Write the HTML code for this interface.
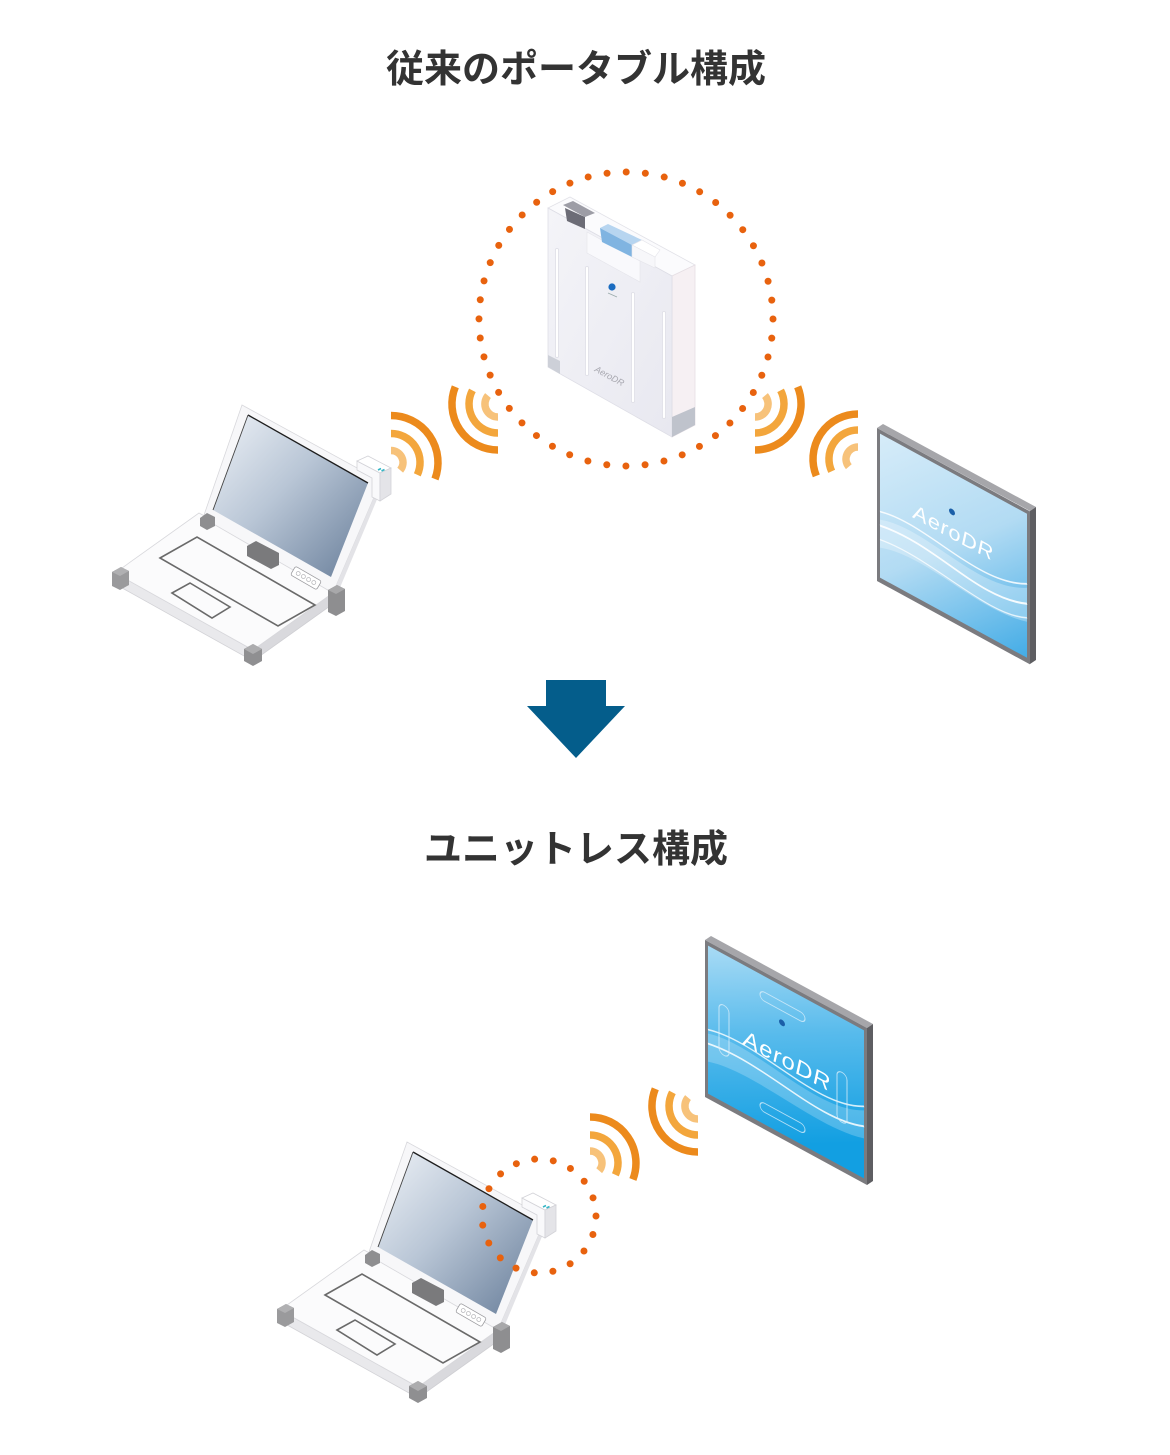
<!DOCTYPE html>
<html>
<head>
<meta charset="utf-8">
<style>
  html,body{margin:0;padding:0;background:#fff;}
  svg{display:block;}
</style>
</head>
<body>
<svg width="1170" height="1455" viewBox="0 0 1170 1455" xmlns="http://www.w3.org/2000/svg">
  <defs>
    <linearGradient id="lcd" x1="0" y1="0" x2="1" y2="1">
      <stop offset="0" stop-color="#eef2f7"/>
      <stop offset="0.45" stop-color="#b9c6d6"/>
      <stop offset="1" stop-color="#677d99"/>
    </linearGradient>
    <linearGradient id="unitFront" x1="0" y1="0" x2="1" y2="1">
      <stop offset="0" stop-color="#f4f4f8"/>
      <stop offset="1" stop-color="#e8e8f0"/>
    </linearGradient>
    <linearGradient id="scr1" x1="0" y1="0" x2="1" y2="1">
      <stop offset="0" stop-color="#d6ecf9"/>
      <stop offset="0.5" stop-color="#b2dbf3"/>
      <stop offset="1" stop-color="#43ace6"/>
    </linearGradient>
    <linearGradient id="scr2" x1="0" y1="0" x2="0.6" y2="1">
      <stop offset="0" stop-color="#a9dbf5"/>
      <stop offset="0.45" stop-color="#58bbec"/>
      <stop offset="1" stop-color="#129fe2"/>
    </linearGradient>
  </defs>

  <!-- Titles -->
  <text x="576" y="82" text-anchor="middle" font-family="'Liberation Sans','Noto Sans CJK JP',sans-serif" font-weight="bold" font-size="38" fill="#333">従来のポータブル構成</text>
  <text x="576" y="862" text-anchor="middle" font-family="'Liberation Sans','Noto Sans CJK JP',sans-serif" font-weight="bold" font-size="38" fill="#333">ユニットレス構成</text>

  <!-- Arrow -->
  <polygon points="546,680 606,680 606,706 625,706 576,758 527,706 546,706" fill="#045d8b"/>

  <!-- ===== Laptop (top) ===== -->
  <g id="lp">
    <!-- base -->
    <polygon points="115,573 253,650 253,661 115,584" fill="#e9e9ec" stroke="#d2d2d6" stroke-width="0.8"/>
    <polygon points="253,650 337,590 337,601 253,661" fill="#d9d9dd" stroke="#cfcfd3" stroke-width="0.8"/>
    <polygon points="115,573 253,650 337,590 199,513" fill="#fbfbfc" stroke="#d8d8dc" stroke-width="0.8"/>
    <polygon points="160,558 197,537 315,605 278,626" fill="none" stroke="#6a6a6a" stroke-width="1.6"/>
    <polygon points="172,593 190,583 230,607 212,618" fill="none" stroke="#6a6a6a" stroke-width="1.6"/>
    <!-- bumpers base -->
    <polygon points="112,572 121,567 129,571 129,585 120,590 112,586" fill="#9a9a9c"/>
    <polygon points="112,572 121,567 129,571 120,576" fill="#b0b0b2"/>
    <polygon points="244,649 253,644 262,649 262,661 253,666 244,661" fill="#8f8f91"/>
    <polygon points="244,649 253,644 262,649 253,654" fill="#acacae"/>
    <!-- lid -->
    <polygon points="242,405 381,481 333,593 203,518" fill="#f7f7f9" stroke="#d8d8dc" stroke-width="0.8"/>
    <polygon points="381,481 386,478 339,590 333,593" fill="#e3e3e7"/>
    <polygon points="248,415 368,483 331,577 213,510" fill="url(#lcd)"/>
    <line x1="248" y1="415" x2="368" y2="483" stroke="#1e1e1e" stroke-width="1.3"/>
    <line x1="248" y1="415" x2="213" y2="510" stroke="#444" stroke-width="0.9"/>
    <!-- hinge -->
    <polygon points="247,546 256,541 279,553 279,565 271,569 247,556" fill="#7a7a7c"/>
    <!-- buttons -->
    <g transform="translate(306,578) rotate(30)">
      <rect x="-15" y="-5" width="30" height="10" rx="2" fill="#fff" stroke="#9a9a9e" stroke-width="0.8"/>
      <circle cx="-9" cy="0" r="2" fill="none" stroke="#b0b0b4" stroke-width="0.7"/>
      <circle cx="-3" cy="0" r="2" fill="none" stroke="#b0b0b4" stroke-width="0.7"/>
      <circle cx="3" cy="0" r="2" fill="none" stroke="#b0b0b4" stroke-width="0.7"/>
      <circle cx="9" cy="0" r="2" fill="none" stroke="#b0b0b4" stroke-width="0.7"/>
    </g>
    <!-- hinge bumpers -->
    <polygon points="200,518 207,513 215,517 215,526 207,530 200,526" fill="#8e8e90"/>
    <polygon points="328,590 337,585 345,589 345,611 336,616 328,612" fill="#8e8e90"/>
    <polygon points="328,590 337,585 345,589 336,594" fill="#a8a8aa"/>
    <!-- dongle -->
    <polygon points="357,470 372,478 372,497 380,501 380,473 357,461" fill="#f9f9fb" stroke="#d3d3d8" stroke-width="0.8"/>
    <polygon points="357,461 368,456 391,468 380,473" fill="#ffffff" stroke="#d3d3d8" stroke-width="0.8"/>
    <polygon points="380,473 391,468 391,494 380,501" fill="#e4e4e8" stroke="#d3d3d8" stroke-width="0.8"/>
    <path d="M378,470 l3,-1.5 M381.5,471 l3,-1.5" stroke="#35b5c5" stroke-width="1.6"/>
  </g>

  <!-- Laptop (bottom) -->
  <use href="#lp" transform="translate(165,737)"/>

  <!-- ===== Unit (top center) ===== -->
  <g>
    <polygon points="548,208 570,197 695,265 672,276" fill="#fbfbfd" stroke="#e2e2e8" stroke-width="0.8"/>
    <polygon points="672,276 695,265 695,425 672,437" fill="#f6f0f3" stroke="#e6dfe4" stroke-width="0.8"/>
    <polygon points="548,208 672,276 672,437 548,367" fill="url(#unitFront)" stroke="#dedee6" stroke-width="0.8"/>
    <!-- recess under handles -->
    <polygon points="587,232 640,261 640,282 587,253" fill="#f9f9fc" stroke="#e4e4ea" stroke-width="0.6"/>
    <!-- bars -->
    <g stroke-linecap="round">
      <line x1="557" y1="250" x2="557" y2="356" stroke="#e0e0e8" stroke-width="4"/>
      <line x1="587" y1="268" x2="587" y2="374" stroke="#e0e0e8" stroke-width="4"/>
      <line x1="633" y1="294" x2="633" y2="401" stroke="#e0e0e8" stroke-width="4"/>
      <line x1="664" y1="313" x2="664" y2="417" stroke="#e0e0e8" stroke-width="4"/>
      <line x1="557" y1="250" x2="557" y2="356" stroke="#fff" stroke-width="2.2"/>
      <line x1="587" y1="268" x2="587" y2="374" stroke="#fff" stroke-width="2.2"/>
      <line x1="633" y1="294" x2="633" y2="401" stroke="#fff" stroke-width="2.2"/>
      <line x1="664" y1="313" x2="664" y2="417" stroke="#fff" stroke-width="2.2"/>
    </g>
    <!-- gray handle block -->
    <polygon points="563,205 573,201 595,213 585,217" fill="#9d9da6"/>
    <polygon points="565,208 585,217 585,229 567,221" fill="#6c6c76"/>
    <!-- blue block -->
    <polygon points="600,228 608,224 642,240 632,245" fill="#b7d5f0"/>
    <polygon points="600,228 632,245 632,257 602,242" fill="#80b4e1"/>
    <!-- white block -->
    <polygon points="632,245 642,240 660,250 655,257" fill="#ffffff" stroke="#e4e4ea" stroke-width="0.6"/>
    <polygon points="632,245 655,257 655,268 632,257" fill="#f7f7fa" stroke="#e4e4ea" stroke-width="0.6"/>
    <!-- bumpers -->
    <polygon points="548,355 560,361 560,374 548,367" fill="#cdd0d8"/>
    <polygon points="672,417 695,407 695,425 672,437" fill="#bfc3cc"/>
    <!-- logo -->
    <circle cx="612" cy="287" r="3.6" fill="#1b6cc0"/>
    <line x1="608" y1="293" x2="617" y2="297" stroke="#9aa" stroke-width="0.8"/>
    <text x="594" y="371" transform="rotate(28.7 594 371)" font-family="'Liberation Sans',sans-serif" font-style="italic" font-size="9" fill="#a8a8b0">AeroDR</text>
  </g>

  <!-- ===== Panel (top right) ===== -->
  <polygon points="877,428 1030,511 1036,507 883,424" fill="#a6a6aa"/>
  <polygon points="1030,511 1036,507 1036,660 1030,664" fill="#5e5e62"/>
  <g transform="translate(877,428) skewY(28.6)">
    <rect x="0" y="0" width="153" height="153" fill="#7b7b7f"/>
    <rect x="3" y="4" width="147" height="144" fill="url(#scr1)"/>
    <path d="M3,90 C50,72 100,108 150,78 L150,112 C100,128 50,100 3,118 Z" fill="#ffffff" opacity="0.28"/>
    <path d="M3,82 C50,68 100,102 150,74" stroke="#fff" stroke-width="1.6" fill="none" opacity="0.85"/>
    <path d="M3,96 C60,84 100,116 150,94" stroke="#fff" stroke-width="2" fill="none" opacity="0.9"/>
    <path d="M3,110 C55,100 110,128 150,108" stroke="#fff" stroke-width="1.4" fill="none" opacity="0.75"/>
    <circle cx="75" cy="43" r="3" fill="#1b5fa8"/>
    <text x="36" y="70" font-family="'Liberation Sans',sans-serif" font-style="italic" font-size="21" letter-spacing="1" fill="#ffffff">AeroDR</text>
  </g>

  <!-- ===== Panel (bottom) ===== -->
  <polygon points="705,940 867,1028 873,1024 711,936" fill="#a6a6aa"/>
  <polygon points="867,1028 873,1024 873,1181 867,1185" fill="#5e5e62"/>
  <g transform="translate(705,940) skewY(28.5)">
    <rect x="0" y="0" width="162" height="157" fill="#7b7b7f"/>
    <rect x="3" y="4" width="156" height="148" fill="url(#scr2)"/>
    <path d="M3,92 C50,76 110,112 159,84 L159,112 C110,128 50,104 3,120 Z" fill="#ffffff" opacity="0.22"/>
    <path d="M3,88 C55,72 110,108 159,80" stroke="#fff" stroke-width="1.6" fill="none" opacity="0.8"/>
    <path d="M3,102 C60,90 110,120 159,100" stroke="#fff" stroke-width="1.8" fill="none" opacity="0.85"/>
    <rect x="55" y="20" width="45" height="9" rx="4.5" fill="none" stroke="#d8eefa" stroke-width="1" opacity="0.8"/>
    <rect x="55" y="131" width="45" height="9" rx="4.5" fill="none" stroke="#d8eefa" stroke-width="1" opacity="0.8"/>
    <rect x="14" y="55" width="10" height="50" rx="5" fill="none" stroke="#d8eefa" stroke-width="1" opacity="0.8"/>
    <rect x="132" y="58" width="10" height="50" rx="5" fill="none" stroke="#d8eefa" stroke-width="1" opacity="0.8"/>
    <circle cx="77" cy="41" r="3" fill="#1b5fa8"/>
    <text x="38" y="84" font-family="'Liberation Sans',sans-serif" font-style="italic" font-size="23" letter-spacing="1" fill="#ffffff">AeroDR</text>
  </g>

  <!-- ===== Wi-Fi arcs ===== -->
  <g fill="none" stroke-width="7.5">
    <!-- A: unit left -->
    <path d="M455.3,386.8 A46,46 0 0 0 498,450" stroke="#ec8a1c"/>
    <path d="M472.4,390.4 A29,29 0 0 0 498,433" stroke="#f3a63c"/>
    <path d="M488,395.6 A13,13 0 0 0 498,417" stroke="#f7c27a"/>
    <!-- B: unit right -->
    <path d="M797.7,386.8 A46,46 0 0 1 755,450" stroke="#ec8a1c"/>
    <path d="M780.6,390.4 A29,29 0 0 1 755,433" stroke="#f3a63c"/>
    <path d="M765,395.6 A13,13 0 0 1 755,417" stroke="#f7c27a"/>
    <!-- C: laptop top -->
    <path d="M391,415.5 A47,47 0 0 1 435,479" stroke="#ec8a1c"/>
    <path d="M391,433.5 A29,29 0 0 1 417.3,474.8" stroke="#f3a63c"/>
    <path d="M391,450.5 A12,12 0 0 1 400.2,470.2" stroke="#f7c27a"/>
    <!-- D: panel top -->
    <path d="M858,414 A45,45 0 0 0 816.3,475.9" stroke="#ec8a1c"/>
    <path d="M858,430 A29,29 0 0 0 831.7,471.3" stroke="#f3a63c"/>
    <path d="M858,447 A12,12 0 0 0 848.8,466.7" stroke="#f7c27a"/>
    <!-- E: laptop bottom -->
    <path d="M590,1117 A46,46 0 0 1 632.9,1179.5" stroke="#ec8a1c"/>
    <path d="M590,1135 A28,28 0 0 1 615.4,1174.8" stroke="#f3a63c"/>
    <path d="M590,1151 A12,12 0 0 1 599.2,1170.7" stroke="#f7c27a"/>
    <!-- F: panel bottom -->
    <path d="M655.3,1088.8 A46,46 0 0 0 698,1152" stroke="#ec8a1c"/>
    <path d="M672.4,1092.4 A29,29 0 0 0 698,1135" stroke="#f3a63c"/>
    <path d="M688,1097.6 A13,13 0 0 0 698,1119" stroke="#f7c27a"/>
  </g>

  <!-- ===== Dotted circles ===== -->
  <circle cx="626" cy="319" r="147" fill="none" stroke="#e8620e" stroke-width="7" stroke-linecap="round" stroke-dasharray="0 19.24"/>
  <circle cx="539" cy="1216" r="57" fill="none" stroke="#e8620e" stroke-width="7" stroke-linecap="round" stroke-dasharray="0 18.85"/>
</svg>
</body>
</html>
